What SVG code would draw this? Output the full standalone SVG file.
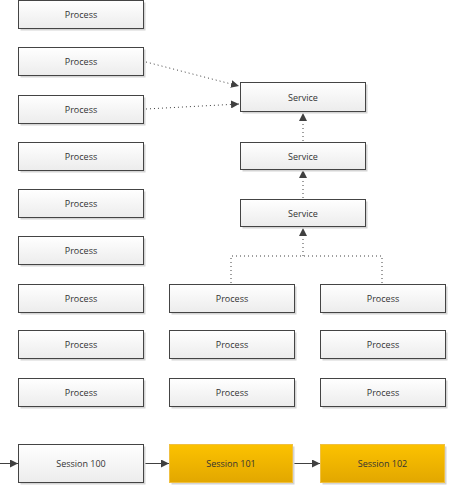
<svg xmlns="http://www.w3.org/2000/svg" width="450" height="485" viewBox="0 0 450 485">
<defs>
<linearGradient id="gw" x1="0" y1="0" x2="0" y2="1"><stop offset="0" stop-color="#ffffff"/><stop offset="1" stop-color="#ececec"/></linearGradient>
<linearGradient id="go" x1="0" y1="0" x2="0" y2="1"><stop offset="0" stop-color="#fcc200"/><stop offset="1" stop-color="#e2a700"/></linearGradient>
<marker id="ah" viewBox="0 0 10 10" refX="10" refY="5" markerWidth="8" markerHeight="8" markerUnits="userSpaceOnUse" orient="auto"><path d="M0,0 L10,5 L0,10 z" fill="#404040"/></marker>
<style>
.b rect.s{fill:#d4d4d4}
.b rect.f{fill:url(#gw);stroke:#444;stroke-width:1}
.o rect.f{fill:url(#go);stroke:#f0c040;stroke-width:1}
text{font-family:"Open Sans","Liberation Sans",sans-serif;font-size:9px;fill:#333;text-anchor:middle;dominant-baseline:central}
.d{fill:none;stroke:#404040;stroke-width:1;stroke-dasharray:1 3}
.l{fill:none;stroke:#404040;stroke-width:1}
</style>
</defs>
<g id="connectors">
<path class="d" d="M146,62 L239,86" marker-end="url(#ah)"/>
<path class="d" d="M146,109 L239,104" marker-end="url(#ah)"/>
<path class="d" d="M303,141 L303,113" marker-end="url(#ah)"/>
<path class="d" d="M303,198 L303,170" marker-end="url(#ah)"/>
<path class="d" d="M231,283 L231,256 L382,256 L382,283"/>
<path class="d" d="M303,256 L303,228" marker-end="url(#ah)"/>
<path class="l" d="M0,463.5 L18,463.5" marker-end="url(#ah)"/>
<path class="l" d="M144,463.5 L169,463.5" marker-end="url(#ah)"/>
<path class="l" d="M293,463.5 L320,463.5" marker-end="url(#ah)"/>
</g>
<g id="p1" class="b"><rect class="s" x="20.5" y="2.5" width="125" height="28"/><rect class="f" x="18.5" y="0.5" width="125" height="28"/><text x="81" y="14.5">Process</text></g>
<g id="p2" class="b"><rect class="s" x="20.5" y="49.5" width="125" height="28"/><rect class="f" x="18.5" y="47.5" width="125" height="28"/><text x="81" y="61.5">Process</text></g>
<g id="p3" class="b"><rect class="s" x="20.5" y="97.5" width="125" height="28"/><rect class="f" x="18.5" y="95.5" width="125" height="28"/><text x="81" y="109.5">Process</text></g>
<g id="p4" class="b"><rect class="s" x="20.5" y="144.5" width="125" height="28"/><rect class="f" x="18.5" y="142.5" width="125" height="28"/><text x="81" y="156.5">Process</text></g>
<g id="p5" class="b"><rect class="s" x="20.5" y="191.5" width="125" height="28"/><rect class="f" x="18.5" y="189.5" width="125" height="28"/><text x="81" y="203.5">Process</text></g>
<g id="p6" class="b"><rect class="s" x="20.5" y="238.5" width="125" height="28"/><rect class="f" x="18.5" y="236.5" width="125" height="28"/><text x="81" y="250.5">Process</text></g>
<g id="p7" class="b"><rect class="s" x="20.5" y="286.5" width="125" height="28"/><rect class="f" x="18.5" y="284.5" width="125" height="28"/><text x="81" y="298.5">Process</text></g>
<g id="p8" class="b"><rect class="s" x="20.5" y="332.5" width="125" height="28"/><rect class="f" x="18.5" y="330.5" width="125" height="28"/><text x="81" y="344.5">Process</text></g>
<g id="p9" class="b"><rect class="s" x="20.5" y="380.5" width="125" height="28"/><rect class="f" x="18.5" y="378.5" width="125" height="28"/><text x="81" y="392.5">Process</text></g>
<g id="s1" class="b"><rect class="s" x="242.5" y="84.5" width="125" height="29"/><rect class="f" x="240.5" y="82.5" width="125" height="29"/><text x="303" y="97">Service</text></g>
<g id="s2" class="b"><rect class="s" x="242.5" y="144.5" width="125" height="27"/><rect class="f" x="240.5" y="142.5" width="125" height="27"/><text x="303" y="156">Service</text></g>
<g id="s3" class="b"><rect class="s" x="242.5" y="201.5" width="125" height="27"/><rect class="f" x="240.5" y="199.5" width="125" height="27"/><text x="303" y="213">Service</text></g>
<g id="m1" class="b"><rect class="s" x="171.5" y="286.5" width="125" height="28"/><rect class="f" x="169.5" y="284.5" width="125" height="28"/><text x="232" y="298.5">Process</text></g>
<g id="m2" class="b"><rect class="s" x="171.5" y="332.5" width="125" height="28"/><rect class="f" x="169.5" y="330.5" width="125" height="28"/><text x="232" y="344.5">Process</text></g>
<g id="m3" class="b"><rect class="s" x="171.5" y="380.5" width="125" height="28"/><rect class="f" x="169.5" y="378.5" width="125" height="28"/><text x="232" y="392.5">Process</text></g>
<g id="r1" class="b"><rect class="s" x="322.5" y="286.5" width="125" height="28"/><rect class="f" x="320.5" y="284.5" width="125" height="28"/><text x="383" y="298.5">Process</text></g>
<g id="r2" class="b"><rect class="s" x="322.5" y="332.5" width="125" height="28"/><rect class="f" x="320.5" y="330.5" width="125" height="28"/><text x="383" y="344.5">Process</text></g>
<g id="r3" class="b"><rect class="s" x="322.5" y="380.5" width="125" height="28"/><rect class="f" x="320.5" y="378.5" width="125" height="28"/><text x="383" y="392.5">Process</text></g>
<g id="sess100" class="b"><rect class="s" x="20.5" y="446.5" width="125" height="38"/><rect class="f" x="18.5" y="444.5" width="125" height="38"/><text x="81" y="463.5">Session 100</text></g>
<g id="sess101" class="b o"><rect class="s" x="171.5" y="446.5" width="123" height="38"/><rect class="f" x="169.5" y="444.5" width="123" height="38"/><text x="231" y="463.5">Session 101</text></g>
<g id="sess102" class="b o"><rect class="s" x="322.5" y="446.5" width="124" height="38"/><rect class="f" x="320.5" y="444.5" width="124" height="38"/><text x="382.5" y="463.5">Session 102</text></g>
</svg>
